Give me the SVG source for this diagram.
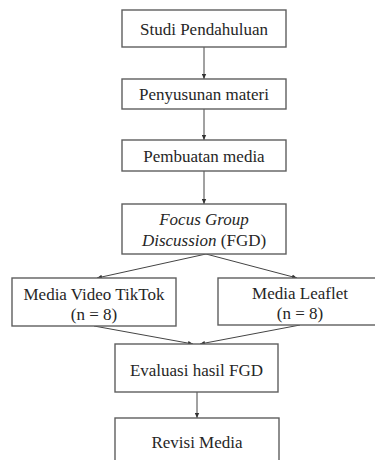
<svg xmlns="http://www.w3.org/2000/svg" width="375" height="460" viewBox="0 0 375 460">
<defs>
<style>
.box{fill:#fff;stroke:#5e5e5e;stroke-width:1.4}
.t{font-family:"Liberation Serif","Times New Roman",serif;font-size:17px;fill:#262626;text-anchor:middle}
.c{stroke:#444;stroke-width:1;fill:none;marker-end:url(#ah)}
</style>
<marker id="ah" viewBox="0 0 5 5" refX="5" refY="2.5" markerWidth="5" markerHeight="5" markerUnits="userSpaceOnUse" orient="auto">
<path d="M0,0.3 L5,2.5 L0,4.7 Z" fill="#333"/>
</marker>
</defs>
<rect width="375" height="460" fill="#fff"/>
<g id="connectors">
<line class="c" x1="204" y1="47" x2="204" y2="79"/>
<line class="c" x1="204" y1="109" x2="204" y2="140"/>
<line class="c" x1="204" y1="171" x2="204" y2="204"/>
<line class="c" x1="206" y1="254" x2="97" y2="278"/>
<line class="c" x1="206" y1="254" x2="297" y2="278"/>
<line class="c" x1="94" y1="326" x2="193" y2="344"/>
<line class="c" x1="300" y1="325" x2="200" y2="344"/>
<line class="c" x1="197" y1="392" x2="197" y2="418"/>
</g>
<g id="studi">
<rect class="box" x="122" y="10" width="164" height="37"/>
<text class="t" x="204" y="35">Studi Pendahuluan</text>
</g>
<g id="penyusunan">
<rect class="box" x="122" y="79" width="164" height="30"/>
<text class="t" x="204" y="100">Penyusunan materi</text>
</g>
<g id="pembuatan">
<rect class="box" x="122" y="140" width="164" height="31"/>
<text class="t" x="204" y="161.5">Pembuatan media</text>
</g>
<g id="fgd">
<rect class="box" x="122" y="204" width="164" height="50"/>
<text class="t" x="204" y="225"><tspan font-style="italic">Focus Group</tspan></text>
<text class="t" x="204" y="246"><tspan font-style="italic">Discussion</tspan> (FGD)</text>
</g>
<g id="tiktok">
<rect class="box" x="12" y="278" width="164" height="48"/>
<text class="t" x="94" y="300">Media Video TikTok</text>
<text class="t" x="94" y="320">(n = 8)</text>
</g>
<g id="leaflet">
<rect class="box" x="218" y="278" width="164" height="47"/>
<text class="t" x="300" y="299">Media Leaflet</text>
<text class="t" x="300" y="319">(n = 8)</text>
</g>
<g id="evaluasi">
<rect class="box" x="115" y="344" width="163" height="48"/>
<text class="t" x="196.5" y="376">Evaluasi hasil FGD</text>
</g>
<g id="revisi">
<rect class="box" x="115" y="418" width="164" height="60"/>
<text class="t" x="197" y="448">Revisi Media</text>
</g>
</svg>
